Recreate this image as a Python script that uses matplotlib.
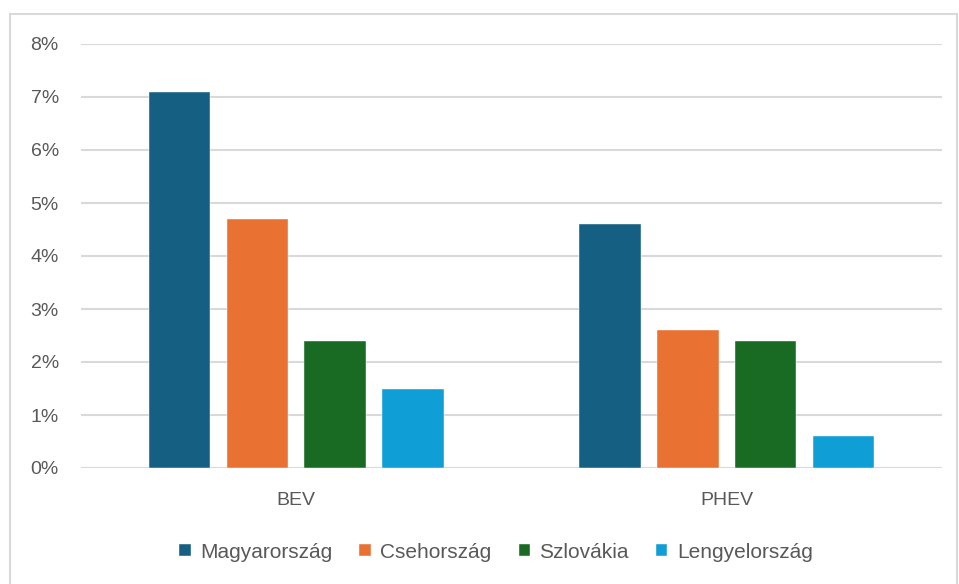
import numpy as np
import matplotlib.pyplot as plt
from matplotlib.patches import Rectangle
from matplotlib.ticker import FuncFormatter

# --- data ---
categories = ['BEV', 'PHEV']
countries = ['Magyarország', 'Csehország', 'Szlovákia', 'Lengyelország']
values = {
    'Magyarország': [0.071, 0.046],
    'Csehország': [0.047, 0.026],
    'Szlovákia': [0.024, 0.024],
    'Lengyelország': [0.015, 0.006],
}
colors = ['#156082', '#E97132', '#196B24', '#0F9ED5']

W, H = 959, 584
fig = plt.figure(figsize=(W / 100, H / 100), dpi=100)
plt.rcParams['font.family'] = ['Liberation Sans', 'DejaVu Sans']

# chart border
fig.patches.append(Rectangle((10 / W, -0.02), 947 / W, 1 - 14 / H + 0.02,
                             transform=fig.transFigure, fill=False,
                             edgecolor='#D9D9D9', linewidth=1.5))

ax = fig.add_axes([81 / W, 1 - 468 / H, 861 / W, 424 / H])

x = np.arange(len(categories))
bw = 0.143
step = 0.181
for i, (name, col) in enumerate(zip(countries, colors)):
    offs = (i - 1.5) * step
    ax.bar(x + offs, values[name], width=bw, color=col, label=name,
           edgecolor='white', linewidth=0.3, zorder=3)

ax.set_xlim(-0.5, 1.5)
ax.set_ylim(0, 0.08)
ax.set_yticks(np.arange(0, 0.081, 0.01))
ax.yaxis.set_major_formatter(FuncFormatter(lambda v, p: f'{v * 100:.0f}%'))
ax.grid(axis='y', color='#D9D9D9', linewidth=1.5, zorder=0)
for s in ['top', 'right', 'left', 'bottom']:
    ax.spines[s].set_visible(False)
ax.tick_params(axis='both', length=0, labelsize=14, colors='#595959')
ax.tick_params(axis='y', pad=16)
ax.tick_params(axis='x', pad=17)
ax.set_xticks(x)
ax.set_xticklabels(categories)

fig.legend(loc='center', bbox_to_anchor=(496 / W, 1 - 552 / H), ncol=4,
           frameon=False, fontsize=15, handlelength=0.55, handleheight=0.55,
           handletextpad=0.45, columnspacing=1.3, labelcolor='#595959')

fig.savefig('out.png', dpi=100)
